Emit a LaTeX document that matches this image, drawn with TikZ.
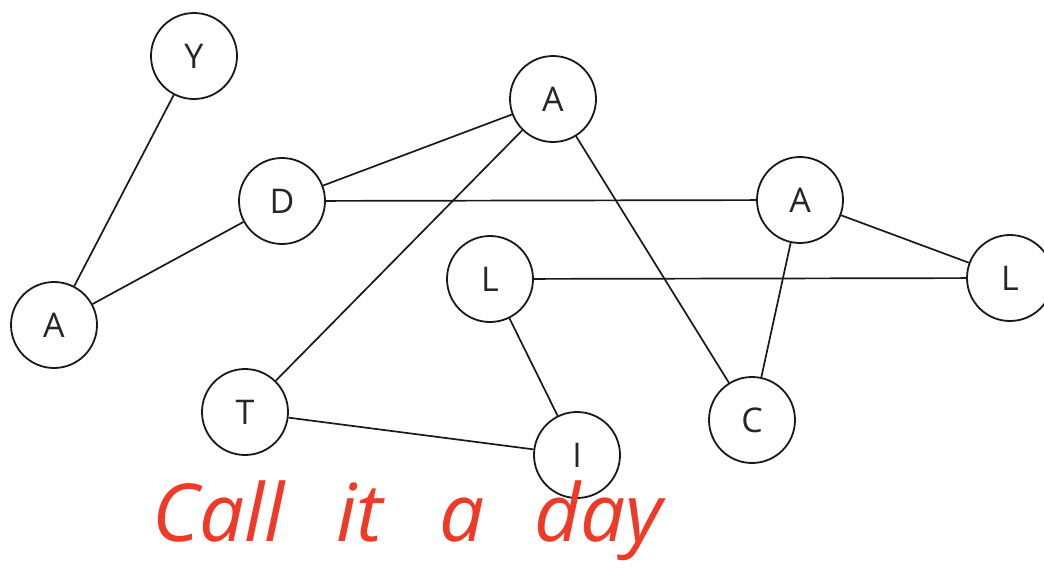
\documentclass[tikz,border=0pt]{standalone}
\usepackage{fontspec}
\setmainfont{Open Sans}
\newfontfamily\handfont{Open Sans Italic}
\begin{document}
\begin{tikzpicture}[x=1pt,y=-1pt,
  vert/.style={circle,draw=black!90,line width=1.8pt,minimum size=86pt,inner sep=0pt,font=\fontsize{34}{34}\selectfont,text=black!85},
  edge/.style={draw=black!90,line width=1.7pt}]
\useasboundingbox (0,0) rectangle (1044,576);
\clip (0,0) rectangle (1044,576);
\node[vert] (y) at (194,56) {Y};
\node[vert] (a1) at (54,325) {A};
\node[vert] (d) at (282,201) {D};
\node[vert] (a2) at (553,99) {A};
\node[vert] (a3) at (800,200) {A};
\node[vert] (l2) at (1010,278) {L};
\node[vert] (l1) at (490,279) {L};
\node[vert] (t) at (245,412) {T};
\node[vert] (i) at (577,455) {I};
\node[vert] (c) at (752,420) {C};
\draw[edge] (y) -- (a1);
\draw[edge] (a1) -- (d);
\draw[edge] (d) -- (a2);
\draw[edge] (d) -- (a3);
\draw[edge] (a2) -- (t);
\draw[edge] (a2) -- (c);
\draw[edge] (a3) -- (l2);
\draw[edge] (a3) -- (c);
\draw[edge] (l1) -- (l2);
\draw[edge] (l1) -- (i);
\draw[edge] (t) -- (i);
\node[anchor=base west,inner sep=0pt,text={rgb,255:red,238;green,58;blue,38},font=\handfont\fontsize{80}{80}\selectfont] (txt) at (152,541) {Call\hspace{52pt}it\hspace{56pt}a\hspace{50pt}day};
\end{tikzpicture}
\end{document}
